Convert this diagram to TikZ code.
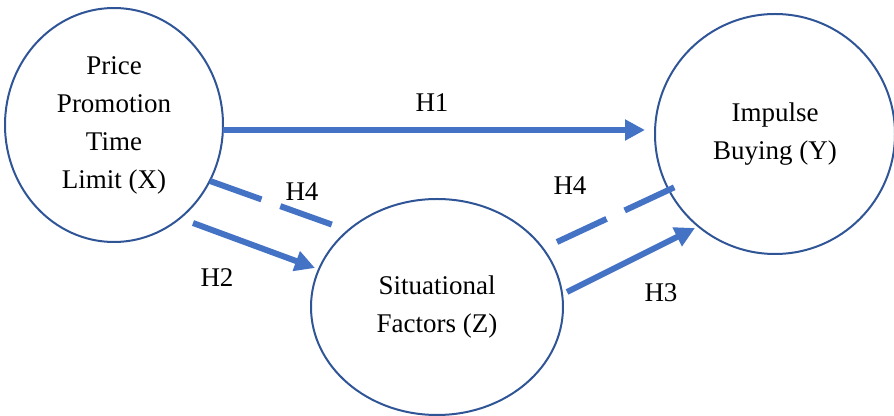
\documentclass[tikz,border=0pt]{standalone}
\usepackage{fontspec}
\setmainfont{Liberation Serif}
\newfontfamily\tnr{Liberation Serif}
\usetikzlibrary{arrows.meta,shapes.geometric}
\definecolor{ringblue}{HTML}{2F5597}
\definecolor{arrowblue}{HTML}{4472C4}

\begin{document}
\begin{tikzpicture}[x=0.75pt,y=-0.75pt]

        \tikzset{
            var/.style={
                ellipse,
                draw = ringblue,
                line width = 1.5pt,
                inner sep = 0pt,
                align = center,
                font = \tnr\fontsize{20.25}{28.5}\selectfont
            },
            path/.style={
                draw = arrowblue,
                line width = 4.5pt
            },
            tip/.style={-{Triangle[length=15pt,width=15pt]}},
            dashpath/.style={dash pattern=on 41pt off 15pt},
            hyp/.style={font=\tnr\fontsize{20.25}{22}\selectfont}
        }
        \useasboundingbox (0,0) rectangle (894,416);

        \node[var, minimum width=163.5pt, minimum height=175.5pt] (px) at (114,125)
            {Price\\Promotion\\Time\\Limit (X)};
        \node[var, minimum width=189pt, minimum height=162pt] (sz) at (437,307)
            {Situational\\Factors (Z)};
        \node[var, minimum width=180pt, minimum height=180pt] (iby) at (775,134)
            {Impulse\\Buying (Y)};

        % free ends of the paths
        \coordinate (h1a) at (223,130);
        \coordinate (h1b) at (645,130);
        \coordinate (h2a) at (193,223);
        \coordinate (h2b) at (315,268);
        \coordinate (h4a) at (210,181);
        \coordinate (h4b) at (333,225);
        \coordinate (h4c) at (557,242);
        \coordinate (h4d) at (675,187);
        \coordinate (h3a) at (567,292);
        \coordinate (h3b) at (695,228);

        \draw[path,tip] (h1a) -- (h1b);
        \draw[path,tip] (h2a) -- (h2b);
        \draw[path,tip] (h3a) -- (h3b);
        \draw[path,dashpath] (h4a) -- (h4b);
        \draw[path,dashpath] (h4c) -- (h4d);

        \node[hyp] (l1) at (432,103) {H1};
        \node[hyp] (l2) at (217,278) {H2};
        \node[hyp] (l3) at (661,293) {H3};
        \node[hyp] (l4) at (302,192) {H4};
        \node[hyp] (l5) at (570,186) {H4};
    \end{tikzpicture}
\end{document}
